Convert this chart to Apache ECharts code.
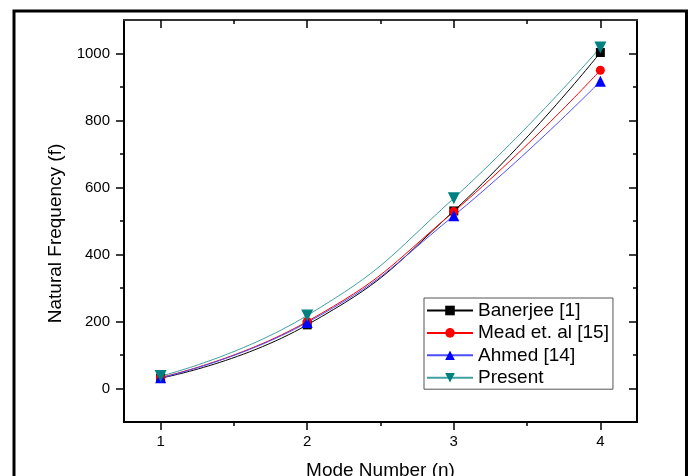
<!DOCTYPE html>
<html>
<head>
<meta charset="utf-8">
<title>Natural Frequency vs Mode Number</title>
<script src="https://cdn.jsdelivr.net/npm/echarts@6/dist/echarts.min.js"></script>
<style>
  html, body { margin: 0; padding: 0; background: #fff; }
  #chart { width: 691px; height: 476px; }
</style>
</head>
<body>
<div id="chart"></div>
<script>
// data
var modes = [1, 2, 3, 4];
var banerjee = [31, 190, 530, 1003];
var mead = [33, 200, 528, 950];
var ahmed = [32, 197, 516, 917];
var present = [37, 218, 568, 1018];

var xMajor = [1, 2, 3, 4];
var xMinor = [1.5, 2.5, 3.5];
var yMajor = [0, 200, 400, 600, 800, 1000];
var yMinor = [100, 300, 500, 700, 900];

var font = 'Arial, "Liberation Sans", sans-serif';

function pairs(ys) {
    return modes.map(function (x, i) { return [x, ys[i]]; });
}

// one helper for the framed axes (major/minor ticks on all four sides)
function xAx(pos, ticks, len, inside, labels, extra) {
    var a = {
        type: 'value', position: pos, min: 0.75, max: 4.25,
        axisLine: { show: true, onZero: false, lineStyle: { color: pos === 'top' ? '#333' : '#000', width: 2 } },
        axisTick: { show: true, inside: inside, length: len, customValues: ticks, lineStyle: { color: '#000', width: 1.5 } },
        axisLabel: { show: labels, customValues: ticks, fontSize: 15, color: '#000', fontFamily: font, margin: 12,
            formatter: function (v) { return String(v); } },
        splitLine: { show: false }
    };
    return Object.assign(a, extra || {});
}
function yAx(pos, ticks, len, inside, labels, extra) {
    var a = {
        type: 'value', position: pos, min: -100, max: 1100,
        axisLine: { show: true, onZero: false, lineStyle: { color: '#000', width: 2 } },
        axisTick: { show: true, inside: inside, length: len, customValues: ticks, lineStyle: { color: '#000', width: 1.5 } },
        axisLabel: { show: labels, customValues: ticks, fontSize: 15, color: '#000', fontFamily: font, margin: 14,
            formatter: function (v) { return String(v); } },
        splitLine: { show: false }
    };
    return Object.assign(a, extra || {});
}

var myChart = echarts.init(document.getElementById('chart'));

var option = {
    backgroundColor: '#fff',
    animation: false,
    graphic: [{
        type: 'rect',
        shape: { x: 14, y: 11, width: 672.5, height: 520 },
        style: { fill: 'none', stroke: '#000', lineWidth: 3 },
        silent: true
    }],
    grid: { left: 124, right: 54, top: 20, bottom: 54, containLabel: false, outerBoundsMode: 'none' },
    legend: {
        orient: 'vertical',
        left: 424, top: 298,
        padding: [3, 4, 2, 2],
        itemWidth: 46, itemHeight: 12, itemGap: 3.4,
        borderColor: '#555', borderWidth: 1,
        backgroundColor: '#fff',
        textStyle: { fontSize: 19, lineHeight: 19, color: '#000', fontFamily: font },
        data: ['Banerjee [1]', 'Mead et. al [15]', 'Ahmed [14]', 'Present']
    },
    xAxis: [
        xAx('bottom', xMajor, 8, false, true, {
            name: 'Mode Number (n)', nameLocation: 'middle', nameGap: 39,
            nameTextStyle: { fontSize: 19, color: '#000', fontFamily: font }
        }),
        xAx('bottom', xMinor, 4, false, false),
        xAx('top', xMajor, 8, true, false),
        xAx('top', xMinor, 4, true, false)
    ],
    yAxis: [
        yAx('left', yMajor, 8, false, true, {
            name: 'Natural Frequency (f)', nameLocation: 'middle', nameGap: 48,
            nameTextStyle: { fontSize: 19, color: '#000', fontFamily: font, padding: [0, 25, 0, 0] }
        }),
        yAx('left', yMinor, 4, false, false),
        yAx('right', yMajor, 8, true, false),
        yAx('right', yMinor, 4, true, false)
    ],
    series: [{
        name: 'Banerjee [1]',
        type: 'line',
        smooth: true,
        data: pairs(banerjee),
        symbol: 'rect', symbolSize: 9,
        itemStyle: { color: '#000' },
        lineStyle: { color: '#000', width: 1 }
    }, {
        name: 'Mead et. al [15]',
        type: 'line',
        smooth: true,
        data: pairs(mead),
        symbol: 'circle', symbolSize: 9,
        itemStyle: { color: '#ff0000' },
        lineStyle: { color: '#ff0000', width: 1 }
    }, {
        name: 'Ahmed [14]',
        type: 'line',
        smooth: true,
        data: pairs(ahmed),
        symbol: 'triangle', symbolSize: 11,
        itemStyle: { color: '#0000ff' },
        lineStyle: { color: '#4d4dff', width: 1 }
    }, {
        name: 'Present',
        type: 'line',
        smooth: true,
        data: pairs(present),
        symbol: 'triangle', symbolSize: 12, symbolRotate: 180,
        itemStyle: { color: '#008080' },
        lineStyle: { color: '#40a0a0', width: 1 }
    }]
};

myChart.setOption(option);
</script>
</body>
</html>
